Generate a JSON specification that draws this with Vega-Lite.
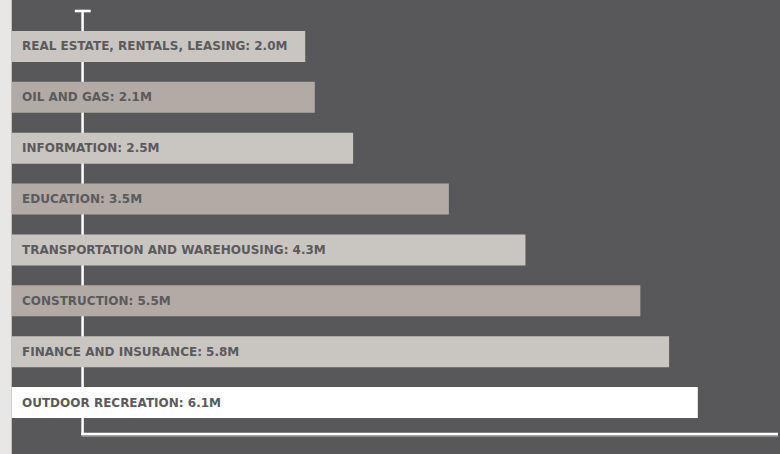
{
  "$schema": "https://vega.github.io/schema/vega-lite/v6.json",
  "width": 780,
  "height": 454,
  "autosize": {"type": "fit", "contains": "padding"},
  "padding": 0,
  "background": "#58585a",
  "config": {"view": {"stroke": null}},
  "data": {
    "values": [
      {"industry": "REAL ESTATE, RENTALS, LEASING", "value": 2.0},
      {"industry": "OIL AND GAS", "value": 2.1},
      {"industry": "INFORMATION", "value": 2.5},
      {"industry": "EDUCATION", "value": 3.5},
      {"industry": "TRANSPORTATION AND WAREHOUSING", "value": 4.3},
      {"industry": "CONSTRUCTION", "value": 5.5},
      {"industry": "FINANCE AND INSURANCE", "value": 5.8},
      {"industry": "OUTDOOR RECREATION", "value": 6.1}
    ]
  },
  "layer": [
    {
      "data": {"values": [{}]},
      "encoding": {
        "y": {"type": "quantitative", "axis": null, "scale": {"domain": [0.0857, 9.0124], "reverse": true, "nice": false, "zero": false}}
      },
      "layer": [
        {
          "mark": {"type": "rect", "color": "#e8e7e5"},
          "encoding": {
            "x": {"datum": -1.1875, "type": "quantitative", "axis": null, "scale": {"domain": [-1.1875, 6.9375], "nice": false, "zero": false}},
            "x2": {"datum": -1.065},
            "y": {"datum": 0.0857, "type": "quantitative"},
            "y2": {"datum": 9.0124}
          }
        },
        {
          "mark": {"type": "rule", "color": "#ffffff", "strokeWidth": 2.5},
          "encoding": {
            "x": {"datum": -0.325, "type": "quantitative"},
            "y": {"datum": 0.285, "type": "quantitative"},
            "y2": {"datum": 8.64}
          }
        },
        {
          "mark": {"type": "rule", "color": "#ffffff", "strokeWidth": 2.6},
          "encoding": {
            "x": {"datum": -0.406, "type": "quantitative"},
            "x2": {"datum": -0.24},
            "y": {"datum": 0.302, "type": "quantitative"}
          }
        },
        {
          "mark": {"type": "rule", "color": "#ffffff", "strokeWidth": 2.2},
          "encoding": {
            "x": {"datum": -0.338, "type": "quantitative"},
            "x2": {"datum": 6.9375},
            "y": {"datum": 8.617, "type": "quantitative"}
          }
        },
        {
          "mark": {"type": "rule", "color": "#bdbdbd", "strokeWidth": 1.2},
          "encoding": {
            "x": {"datum": -0.338, "type": "quantitative"},
            "x2": {"datum": 6.9375},
            "y": {"datum": 8.655, "type": "quantitative"}
          }
        }
      ]
    },
    {
      "transform": [
        {"calculate": "datum.industry + ': ' + format(datum.value, '.1f') + 'M'", "as": "label"}
      ],
      "encoding": {
        "y": {
          "field": "industry",
          "type": "nominal",
          "sort": null,
          "axis": null,
          "scale": {"paddingInner": 0.3905, "paddingOuter": 0.6585, "align": 0.4628, "round": false}
        }
      },
      "layer": [
        {
          "mark": {"type": "bar"},
          "encoding": {
            "x": {
              "field": "value",
              "type": "quantitative",
              "axis": null
            },
            "x2": {"datum": -1.065},
            "color": {
              "field": "industry",
              "type": "nominal",
              "legend": null,
              "scale": {
                "domain": ["REAL ESTATE, RENTALS, LEASING", "OIL AND GAS", "INFORMATION", "EDUCATION", "TRANSPORTATION AND WAREHOUSING", "CONSTRUCTION", "FINANCE AND INSURANCE", "OUTDOOR RECREATION"],
                "range": ["#c9c5c1", "#b1aaa5", "#c9c5c1", "#b1aaa5", "#c9c5c1", "#b1aaa5", "#c9c5c1", "#ffffff"]
              }
            }
          }
        },
        {
          "mark": {"type": "text", "align": "left", "baseline": "middle", "font": "DejaVu Sans", "fontWeight": "bold", "fontSize": 12, "color": "#5b5a5c"},
          "encoding": {
            "x": {"datum": -0.958, "type": "quantitative"},
            "text": {"field": "label"}
          }
        }
      ]
    }
  ],
  "resolve": {"scale": {"y": "independent"}}
}
